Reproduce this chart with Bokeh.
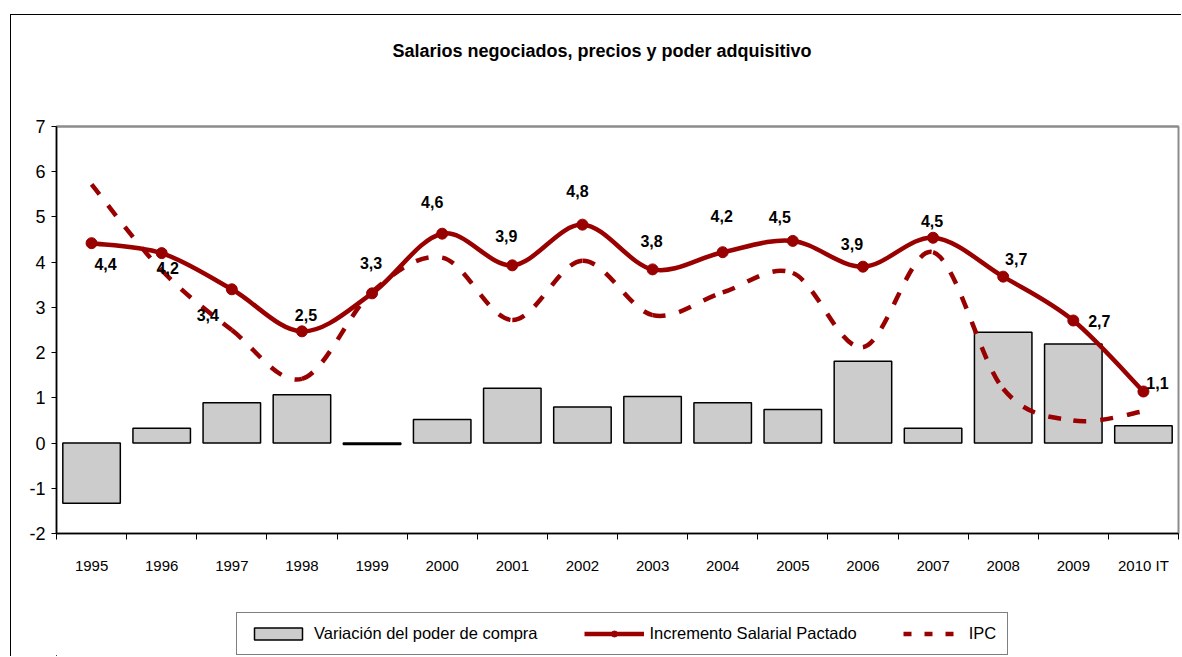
from bokeh.plotting import figure
from bokeh.layouts import column
from bokeh.models import (Range1d, LinearAxis, FixedTicker,
                          Legend, LegendItem, ColumnDataSource)
from bokeh.core.properties import value
from bokeh.embed import file_html
from bokeh.resources import INLINE

# ---------------- data ----------------
years = ["1995", "1996", "1997", "1998", "1999", "2000", "2001", "2002",
         "2003", "2004", "2005", "2006", "2007", "2008", "2009", "2010 IT"]
poder_compra = [-1.33, 0.33, 0.89, 1.07, -0.03, 0.52, 1.21, 0.80,
                1.03, 0.89, 0.74, 1.81, 0.33, 2.45, 2.19, 0.38]
salario = [4.42, 4.20, 3.40, 2.47, 3.31, 4.63, 3.93, 4.83,
           3.84, 4.22, 4.47, 3.90, 4.54, 3.68, 2.71, 1.14]
ipc = [5.72, 3.82, 2.50, 1.42, 3.34, 4.10, 2.72, 4.03,
       2.83, 3.33, 3.76, 2.12, 4.22, 1.20, 0.50, 0.70]
y_ticks = [-2, -1, 0, 1, 2, 3, 4, 5, 6, 7]

# label placement (pixels, relative to marker)
label_dx = [14, 6, -24, 4, -1, -10, -6, -5, -1, -1, -13, -11, -1, 13, 26, 14]
label_dy = [21, 15, 26, -16, -30, -32, -29, -34, -28, -36, -24, -23, -17, -18, 0, -9]

RED = "#990000"
FONT = "Liberation Sans"

n = len(years)
centres = [i + 0.5 for i in range(n)]      # category centres on the numeric axis
bounds = [float(i) for i in range(n + 1)]  # category boundaries (tick marks)


def smooth_segments(vals):
    """Catmull-Rom style control points (Excel-like smoothed line) in data space."""
    seg = dict(x0=[], y0=[], x1=[], y1=[], cx0=[], cy0=[], cx1=[], cy1=[])
    for i in range(n - 1):
        a = max(i - 1, 0)
        d = min(i + 2, n - 1)
        seg["x0"].append(centres[i]); seg["y0"].append(vals[i])
        seg["x1"].append(centres[i + 1]); seg["y1"].append(vals[i + 1])
        seg["cx0"].append(centres[i] + (centres[i + 1] - centres[a]) / 6.0)
        seg["cy0"].append(vals[i] + (vals[i + 1] - vals[a]) / 6.0)
        seg["cx1"].append(centres[i + 1] - (centres[d] - centres[i]) / 6.0)
        seg["cy1"].append(vals[i + 1] - (vals[d] - vals[i]) / 6.0)
    return ColumnDataSource(seg)


ipc_src = smooth_segments(ipc)
sal_src = smooth_segments(salario)

# ---------------- main chart ----------------
p = figure(width=1170, height=563,
           x_range=Range1d(0, n), y_range=Range1d(y_ticks[0], y_ticks[-1]),
           output_backend="svg", toolbar_location=None, x_axis_location=None,
           min_border_left=45, min_border_right=3, min_border_top=111, min_border_bottom=45,
           title="Salarios negociados,  precios y poder adquisitivo")

p.background_fill_color = "white"
p.border_fill_color = "white"
p.outline_line_color = "#8c8c8c"
p.outline_line_width = 2
p.xgrid.visible = False
p.ygrid.visible = False

p.title.align = "left"
p.title.offset = 336
p.title.text_font = FONT
p.title.text_font_style = "bold"
p.title.text_font_size = "18px"
p.title.text_color = "black"
p.title.standoff = 10

# grey top edge of the plot area; its (invisible) tick space lifts the title
top_ax = LinearAxis(ticker=FixedTicker(ticks=bounds))
top_ax.axis_line_color = "#8c8c8c"
top_ax.axis_line_width = 2
top_ax.major_tick_line_color = None
top_ax.minor_tick_line_color = None
top_ax.major_tick_out = 61
top_ax.major_tick_in = 0
top_ax.major_label_standoff = 0
top_ax.major_label_text_font_size = "1px"
top_ax.major_label_text_color = None
p.add_layout(top_ax, "above")

# y axis
ya = p.yaxis[0]
ya.ticker = FixedTicker(ticks=y_ticks)
ya.major_label_overrides = {t: str(t) for t in y_ticks}
ya.major_tick_out = 5
ya.major_tick_in = 0
ya.minor_tick_line_color = None
ya.axis_line_color = "black"
ya.axis_line_width = 1.5
ya.major_tick_line_color = "black"
ya.major_label_text_font = FONT
ya.major_label_text_font_size = "18px"
ya.major_label_text_color = "black"
ya.major_label_standoff = 6

# x axis: labels at the centres, tick marks (minor) at the boundaries
xa = LinearAxis(ticker=FixedTicker(ticks=centres, minor_ticks=bounds),
                major_label_overrides={c: y for c, y in zip(centres, years)})
xa.axis_line_color = "black"
xa.axis_line_width = 1.5
xa.major_tick_line_color = None
xa.major_tick_out = 0
xa.major_tick_in = 0
xa.minor_tick_line_color = "black"
xa.minor_tick_out = 6
xa.minor_tick_in = 0
xa.major_label_text_font = FONT
xa.major_label_text_font_size = "15px"
xa.major_label_text_color = "black"
xa.major_label_standoff = 17
p.add_layout(xa, "below")

BAR = dict(fill_color="#cccccc", line_color="black", line_width=1.5)
SAL = dict(line_color=RED, line_width=4.5)
MARK = dict(size=11, marker="circle", fill_color=RED, line_color=RED)
BZ = dict(x0="x0", y0="y0", x1="x1", y1="y1", cx0="cx0", cy0="cy0", cx1="cx1", cy1="cy1")

p.vbar(x=centres, top=poder_compra, bottom=0, width=0.82, **BAR)
p.bezier(source=ipc_src, line_color=RED, line_width=4.5, line_dash="13 14", **BZ)
p.bezier(source=sal_src, **SAL, **BZ)
p.scatter(x=centres, y=salario, **MARK)

# data labels
lab_src = ColumnDataSource(dict(x=centres, y=salario,
                                t=[f"{v:.1f}".replace(".", ",") for v in salario],
                                dx=label_dx, dy=label_dy))
p.text(x="x", y="y", text="t", x_offset="dx", y_offset="dy", source=lab_src,
       text_font=value(FONT), text_font_style="bold", text_font_size="16px",
       text_color="black", text_align="center", text_baseline="middle")

# ---------------- legend strip ----------------
q = figure(width=1170, height=78, x_range=Range1d(100, 101), y_range=Range1d(100, 101),
           output_backend="svg", toolbar_location=None,
           x_axis_location=None, y_axis_location=None,
           min_border_left=0, min_border_right=0, min_border_top=0, min_border_bottom=0)
q.outline_line_color = None
q.background_fill_color = "white"
q.border_fill_color = "white"
q.grid.visible = False

lg_bar = q.vbar(x=centres, top=poder_compra, bottom=0, width=0.82, **BAR)
lg_sal = q.bezier(source=sal_src, **SAL, **BZ)
lg_mark = q.scatter(x=centres, y=salario, **MARK)
lg_ipc = q.bezier(source=ipc_src, line_color=RED, line_width=4.5, line_dash="8 13", **BZ)

legend = Legend(items=[
    LegendItem(label="Variación del poder de compra", renderers=[lg_bar], index=0),
    LegendItem(label="Incremento Salarial Pactado", renderers=[lg_sal, lg_mark], index=0),
    LegendItem(label="IPC", renderers=[lg_ipc], index=0),
], orientation="horizontal", location=(180, 1))
legend.border_line_color = "black"
legend.border_line_width = 1
legend.background_fill_color = "white"
legend.background_fill_alpha = 1
legend.padding = 11
legend.spacing = 46
legend.margin = 0
legend.glyph_width = 60
legend.glyph_height = 15
legend.label_standoff = 6
legend.label_text_font = FONT
legend.label_text_font_size = "16.5px"
legend.label_text_color = "black"
q.add_layout(legend)

page = column(p, q, spacing=0, margin=(14, 0, 0, 10),
              styles={"border-top": "1px solid #000000", "border-left": "1px solid #000000"})

open("out.html", "w").write(file_html(page, INLINE))
